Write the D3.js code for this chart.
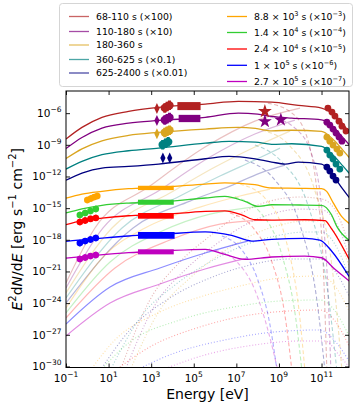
<!DOCTYPE html>
<html>
<head>
<meta charset="utf-8">
<script src="https://cdn.jsdelivr.net/npm/d3@7"></script>
<style>
  body { margin: 0; background: #fff; }
  svg { font-family: "DejaVu Sans", sans-serif; }
</style>
</head>
<body>
<div id="chart"></div>
<script>
// ---- data (log10 E [eV], log10 E^2 dN/dE) ----
var epochLabels = [
  ["68-110 s (×100)"],
  ["110-180 s (×10)"],
  ["180-360 s"],
  ["360-625 s (×0.1)"],
  ["625-2400 s (×0.01)"],
  ["8.8 × 10", "^3", " s (×10", "^−3", ")"],
  ["1.4 × 10", "^4", " s (×10", "^−4", ")"],
  ["2.4 × 10", "^4", " s (×10", "^−5", ")"],
  ["1 × 10", "^5", " s (×10", "^−6", ")"],
  ["2.7 × 10", "^5", " s (×10", "^−7", ")"]
];
var epochColors = ["#b22222", "#800080", "#daa520", "#008080", "#000080",
                   "#ffa500", "#32cd32", "#ff0000", "#0000ff", "#bf00bf"];

var xTicks = [-1, 1, 3, 5, 7, 9, 11];
var yTicks = [-30, -27, -24, -21, -18, -15, -12, -9, -6];

// total model, one per epoch
var totalModel = [
  [[-1,-8.45],[-0.25,-7.35],[0.69,-6.40],[1.94,-5.83],[3.35,-5.45],[5.54,-5.14],[7.09,-4.89],[8.66,-4.95],[9.91,-5.27],[11.0,-5.52],[11.5,-6.0],[12.0,-7.0],[12.3,-7.9]],
  [[-1,-9.35],[-0.25,-8.30],[0.69,-7.41],[1.94,-6.94],[3.35,-6.69],[5.54,-6.40],[7.09,-6.0],[8.0,-6.1],[8.66,-6.31],[9.6,-6.47],[11.0,-6.63],[11.5,-7.2],[12.0,-8.3],[12.3,-9.0]],
  [[-1,-10.3],[-0.25,-9.38],[0.69,-8.62],[1.94,-8.11],[3.35,-7.82],[5.54,-7.51],[7.09,-7.35],[7.9,-7.45],[8.66,-7.67],[9.6,-7.62],[11.0,-7.73],[11.5,-8.4],[12.0,-9.5],[12.3,-10.2]],
  [[-1,-11.3],[-0.25,-10.57],[0.69,-9.94],[1.94,-9.56],[3.35,-9.31],[5.54,-8.84],[6.66,-8.67],[7.9,-8.75],[8.66,-8.95],[9.6,-8.9],[11.0,-9.15],[11.5,-9.9],[12.0,-11.0],[12.3,-11.7]],
  [[-1,-12.35],[-0.25,-11.68],[0.69,-11.20],[1.94,-11.04],[3.35,-10.82],[5.54,-10.32],[6.66,-10.09],[7.8,-10.3],[8.66,-10.63],[9.29,-10.82],[9.91,-10.63],[11.0,-10.82],[11.5,-11.8],[12.0,-13.2],[12.3,-14.0]],
  [[-1,-14.05],[-0.25,-13.67],[0.69,-13.41],[1.94,-13.16],[3.35,-13.03],[5.54,-12.72],[6.46,-12.60],[7.87,-12.78],[8.66,-13.09],[10.0,-13.12],[11.0,-13.16],[11.24,-13.41],[11.55,-14.5],[11.94,-15.78],[12.3,-16.45]],
  [[-1,-15.46],[-0.25,-15.06],[0.69,-14.73],[1.94,-14.52],[3.35,-14.42],[5.54,-14.04],[6.46,-13.88],[7.40,-14.36],[8.03,-14.83],[8.66,-14.68],[10.0,-14.7],[11.0,-14.73],[11.47,-15.63],[11.71,-16.7],[12.3,-18.05]],
  [[-1,-16.57],[-0.25,-16.19],[0.69,-15.94],[1.94,-15.72],[3.35,-15.63],[5.54,-15.30],[6.46,-15.25],[7.25,-15.63],[7.87,-16.10],[8.66,-16.13],[10.22,-16.10],[11.16,-16.19],[11.44,-16.86],[12.3,-19.85]],
  [[-1,-18.14],[0.38,-17.90],[1.94,-17.64],[3.51,-17.48],[5.54,-17.24],[6.78,-17.58],[7.72,-18.12],[8.66,-17.95],[10.22,-17.86],[10.92,-18.02],[11.47,-19.06],[12.3,-21.5]],
  [[-1,-19.73],[0.38,-19.47],[1.94,-19.22],[3.51,-19.06],[5.54,-18.90],[6.46,-19.38],[7.40,-19.85],[8.66,-19.63],[10.22,-19.54],[11.0,-19.70],[11.63,-20.8],[12.3,-21.9]]
];

// faint solid component (rising from low energy)
var riseModel = [
  [[-1,-22.09],[0.36,-16.88],[2.94,-12.91],[5.53,-9.21],[7.87,-6.75],[9.99,-5.52]],
  [[-1,-22.57],[0.74,-16.88],[3.41,-13.29],[5.76,-10.16],[7.87,-7.98],[9.75,-6.66]],
  [[-1,-23.04],[1.16,-16.88],[3.88,-13.57],[6.00,-11.11],[7.87,-9.21],[9.52,-7.70]],
  [[-1,-23.51],[1.63,-16.88],[4.35,-13.85],[6.23,-11.96],[7.87,-10.44],[9.05,-9.31]],
  [[-1,-23.99],[2.15,-16.88],[4.82,-14.33],[6.70,-12.91],[8.11,-11.68],[9.28,-10.92]],
  [[-1,-24.46],[0.83,-19.44],[2.71,-16.88],[5.29,-14.90],[7.17,-13.85],[8.58,-13.19]],
  [[-1,-24.93],[1.07,-20.10],[3.41,-17.26],[5.76,-15.56],[7.40,-14.99],[8.34,-14.80]],
  [[-1,-25.41],[1.30,-20.67],[3.88,-18.02],[6.23,-16.51],[8.20,-16.13]],
  [[-1,-25.98],[1.07,-22.47],[3.41,-20.67],[5.53,-19.25],[7.54,-18.12]],
  [[-1,-27.11],[1.07,-23.99],[3.41,-22.19],[5.53,-20.77],[7.54,-19.72]]
];

// dashed component (cut-off at high energy)
var cutModel = [
  [[8.48,-5.05],[9.61,-5.99],[10.36,-8.55],[10.78,-13.29],[11.07,-19.91],[11.25,-30.4]],
  [[8.58,-6.37],[9.75,-7.41],[10.55,-9.97],[11.02,-15.18],[11.30,-22.76],[11.44,-30.4]],
  [[8.20,-7.60],[9.52,-9.12],[10.65,-13.10],[11.54,-21.34],[11.96,-30.4]],
  [[7.87,-9.02],[9.14,-10.63],[10.36,-14.71],[11.25,-22.28],[11.72,-30.4]],
  [[7.40,-10.44],[8.81,-12.34],[9.99,-16.60],[10.78,-23.70],[11.16,-30.4]],
  [[7.17,-12.72],[8.34,-14.04],[9.33,-18.02],[9.94,-24.65],[10.22,-30.4]],
  [[6.93,-13.95],[8.11,-15.37],[9.14,-19.44],[9.80,-25.60],[10.08,-30.4]],
  [[6.70,-15.46],[7.87,-17.07],[8.67,-20.10],[9.28,-25.12],[9.61,-30.4]],
  [[6.32,-17.64],[7.26,-18.97],[8.01,-21.81],[8.58,-26.07],[8.91,-30.4]],
  [[6.00,-18.97],[7.08,-20.20],[7.87,-22.76],[8.48,-26.54],[8.95,-30.4]]
];

// dotted component
var lowModel = [
  [[1.54,-30.4],[2.94,-23.70],[4.35,-20.10],[5.76,-17.64],[7.17,-15.56],[8.58,-14.33],[9.99,-13.95],[11.02,-14.14],[11.77,-15.65],[12.29,-18.49]],
  [[1.77,-30.4],[3.18,-24.18],[4.59,-20.86],[6.00,-18.49],[7.40,-16.60],[8.81,-15.46],[9.99,-15.09],[11.02,-15.18],[11.77,-16.70],[12.29,-19.54]],
  [[2.00,-30.4],[3.41,-24.65],[4.82,-21.62],[6.23,-19.35],[7.64,-17.64],[9.05,-16.60],[10.22,-16.22],[11.02,-16.22],[11.72,-17.64],[12.29,-20.48]],
  [[1.07,-30.4],[2.47,-25.41],[4.12,-22.28],[5.76,-20.10],[7.40,-18.49],[9.05,-17.55],[10.22,-17.26],[11.02,-17.26],[11.68,-18.59],[12.29,-21.43]],
  [[0.60,-30.4],[2.00,-26.54],[3.88,-23.51],[5.76,-21.62],[7.64,-20.39],[9.52,-19.82],[10.92,-19.82],[11.63,-20.96],[12.29,-23.32]],
  [[0.13,-30.4],[1.30,-27.49],[3.41,-24.84],[5.29,-23.42],[7.17,-22.38],[9.05,-21.62],[10.92,-21.43],[11.63,-22.38],[12.29,-24.74]],
  [[0.60,-30.4],[2.00,-27.68],[4.35,-25.60],[7.17,-24.27],[9.05,-23.80],[10.92,-23.70],[11.63,-24.74],[12.29,-27.11]],
  [[1.30,-30.4],[2.94,-28.15],[5.29,-26.26],[7.64,-25.12],[9.52,-24.74],[10.92,-24.65],[11.63,-25.69],[12.29,-28.06]],
  [[2.24,-30.4],[4.12,-28.72],[6.46,-27.49],[8.81,-26.73],[10.92,-26.54],[11.63,-27.59],[12.29,-29.48]],
  [[3.41,-30.4],[5.53,-28.91],[7.87,-27.96],[9.99,-27.59],[11.16,-27.59],[11.86,-29.01],[12.29,-30.05]]
];

// observations: [epoch, logE, logF]
var diamondPoints = [[0,3.27,-5.57],[1,3.27,-6.70],[2,3.27,-7.94],[4,3.55,-10.26],[4,3.87,-10.26]];
var opticalPoints = [
  [0,3.64,-5.5],[0,3.75,-5.38],[0,3.86,-5.26],
  [1,3.64,-6.64],[1,3.75,-6.52],[1,3.86,-6.42],
  [2,3.64,-7.84],[2,3.75,-7.72],[2,3.86,-7.62],
  [3,3.54,-9.0],[3,3.67,-8.86],[3,3.8,-8.72]
];
var uvPoints = [
  [5,0.0,-14.23],[5,0.17,-14.09],[5,0.33,-13.95],[5,0.47,-13.85],
  [6,-0.35,-15.65],[6,-0.1,-15.46],[6,0.15,-15.27],[6,0.4,-15.08],
  [7,-0.35,-16.31],[7,-0.1,-16.17],[7,0.15,-16.02],[7,0.4,-15.93],
  [8,-0.35,-18.31],[8,-0.1,-18.12],[8,0.15,-17.97],[8,0.4,-17.83],
  [9,-0.35,-19.82],[9,-0.1,-19.68],[9,0.15,-19.54],[9,0.4,-19.44]
];
// X-ray bands: [epoch, logE0, logE1, logFlo, logFhi]
var xrayBands = [
  [0,4.23,5.32,-5.71,-4.95],
  [1,4.29,5.31,-6.85,-6.16],
  [5,2.38,4.06,-13.29,-12.88],
  [6,2.38,4.06,-14.68,-14.20],
  [7,2.38,4.06,-16.0,-15.46],
  [8,2.38,4.10,-17.90,-17.26],
  [9,2.38,4.06,-19.38,-18.90]
];
var latPoints = [[0,8.34,-5.83],[1,8.34,-6.78],[1,9.09,-6.63]];
var tevPoints = [
  [0,11.30,-5.52],[0,11.49,-5.90],[0,11.63,-6.28],[0,11.82,-6.76],[0,11.96,-7.23],[0,12.15,-7.70],
  [1,11.25,-6.85],[1,11.39,-7.13],[1,11.54,-7.51],[1,11.68,-7.89],[1,11.82,-8.27],[1,11.96,-8.65],
  [2,11.25,-8.27],[2,11.39,-8.65],[2,11.54,-9.02],[2,11.72,-9.40],[2,11.86,-9.78],
  [3,11.25,-9.50],[3,11.39,-9.97],[3,11.54,-10.35],[3,11.68,-10.82],[3,11.86,-11.30],
  [4,11.25,-11.11],[4,11.39,-11.49],[4,11.54,-11.96],[4,11.68,-12.34]
];

// ---- layout ----
var margin = {top: 91, right: 8, bottom: 43.5, left: 66};
var width = 357 - margin.left - margin.right;
var height = 411 - margin.top - margin.bottom;

var svg = d3.select("#chart").append("svg")
  .attr("width", 357).attr("height", 411);
var g = svg.append("g")
  .attr("transform", "translate(" + margin.left + "," + margin.top + ")");

var x = d3.scaleLog().domain([1e-1, Math.pow(10, 12.29)]).range([0, width]);
var y = d3.scaleLog().domain([Math.pow(10, -30.1), Math.pow(10, -3.9)]).range([height, 0]);
var px = function(v) { return x(Math.pow(10, v)); };
var py = function(v) { return y(Math.pow(10, v)); };

// text with ^superscripts and _italics
function richText(sel, parts, supSize, rise) {
  var cur = 0;
  parts.forEach(function(p) {
    var t = sel.append("tspan");
    var target = 0;
    if (p[0] === "^") { t.text(p.slice(1)).attr("font-size", supSize); target = -rise; }
    else if (p[0] === "_") { t.text(p.slice(1)).attr("font-style", "italic"); }
    else { t.text(p); }
    if (target !== cur) { t.attr("dy", target - cur); cur = target; }
  });
}

g.append("clipPath").attr("id", "clip")
  .append("rect").attr("width", width).attr("height", height);
var plot = g.append("g").attr("clip-path", "url(#clip)");

var line = d3.line()
  .x(function(d) { return px(d[0]); })
  .y(function(d) { return py(d[1]); })
  .curve(d3.curveMonotoneX);

// background components
plot.selectAll(".low").data(lowModel).enter().append("path")
  .attr("d", line).attr("fill", "none")
  .attr("stroke", function(d, i) { return epochColors[i]; })
  .attr("stroke-width", 1.1).attr("stroke-opacity", 0.35)
  .attr("stroke-dasharray", "1,2");

plot.selectAll(".rise").data(riseModel).enter().append("path")
  .attr("d", line).attr("fill", "none")
  .attr("stroke", function(d, i) { return epochColors[i]; })
  .attr("stroke-width", 1.2)
  .attr("stroke-opacity", function(d, i) { return i >= 8 ? 0.45 : 0.28; });

plot.selectAll(".cut").data(cutModel).enter().append("path")
  .attr("d", line).attr("fill", "none")
  .attr("stroke", function(d, i) { return epochColors[i]; })
  .attr("stroke-width", 1.1).attr("stroke-opacity", 0.32)
  .attr("stroke-dasharray", "4,2.5");

// total model curves
plot.selectAll(".total").data(totalModel).enter().append("path")
  .attr("d", line).attr("fill", "none")
  .attr("stroke", function(d, i) { return epochColors[i]; })
  .attr("stroke-width", 1.3);

// X-ray bands
plot.selectAll(".xray").data(xrayBands).enter().append("rect")
  .attr("x", function(d) { return px(d[1]); })
  .attr("width", function(d) { return px(d[2]) - px(d[1]); })
  .attr("y", function(d) { return py(d[4]); })
  .attr("height", function(d) { return py(d[3]) - py(d[4]); })
  .attr("fill", function(d) { return epochColors[d[0]]; });

// optical / UV points with error bars
function errPoints(data, r, dlog, w) {
  var grp = plot.append("g");
  grp.selectAll("line").data(data).enter().append("line")
    .attr("x1", function(d) { return px(d[1]); })
    .attr("x2", function(d) { return px(d[1]); })
    .attr("y1", function(d) { return py(d[2] - dlog); })
    .attr("y2", function(d) { return py(d[2] + dlog); })
    .attr("stroke", function(d) { return epochColors[d[0]]; })
    .attr("stroke-width", w);
  grp.selectAll("circle").data(data).enter().append("circle")
    .attr("cx", function(d) { return px(d[1]); })
    .attr("cy", function(d) { return py(d[2]); })
    .attr("r", r)
    .attr("fill", function(d) { return epochColors[d[0]]; });
}
errPoints(opticalPoints, 4.2, 0.45, 3);
errPoints(uvPoints, 3.3, 0.3, 2);

// thin diamonds
plot.selectAll(".dia").data(diamondPoints).enter().append("path")
  .attr("d", function(d) {
    var cx = px(d[1]), cy = py(d[2]);
    return "M" + cx + "," + (cy - 5.5) + "L" + (cx + 2.6) + "," + cy +
           "L" + cx + "," + (cy + 5.5) + "L" + (cx - 2.6) + "," + cy + "Z";
  })
  .attr("fill", function(d) { return epochColors[d[0]]; });

// LAT stars
plot.selectAll(".star").data(latPoints).enter().append("path")
  .attr("d", d3.symbol().type(d3.symbolStar).size(60))
  .attr("transform", function(d) { return "translate(" + px(d[1]) + "," + py(d[2]) + ")"; })
  .attr("fill", function(d) { return epochColors[d[0]]; });

// TeV points
plot.selectAll(".tev").data(tevPoints).enter().append("circle")
  .attr("cx", function(d) { return px(d[1]); })
  .attr("cy", function(d) { return py(d[2]); })
  .attr("r", 3.4)
  .attr("fill", function(d) { return epochColors[d[0]]; });

// ---- axes (ticks inward on all sides) ----
var xv = xTicks.map(function(v) { return Math.pow(10, v); });
var yv = yTicks.map(function(v) { return Math.pow(10, v); });
[
  [d3.axisBottom(x).tickValues(xv), "translate(0," + height + ")"],
  [d3.axisTop(x).tickValues(xv), "translate(0,0)"],
  [d3.axisLeft(y).tickValues(yv), "translate(0,0)"],
  [d3.axisRight(y).tickValues(yv), "translate(" + width + ",0)"]
].forEach(function(a) {
  var ax = g.append("g").attr("transform", a[1])
    .call(a[0].tickSize(-4).tickSizeOuter(0).tickFormat(""));
  ax.select(".domain").remove();
  ax.selectAll("line").attr("stroke", "#000").attr("stroke-width", 0.9);
});

g.append("rect").attr("width", width).attr("height", height)
  .attr("fill", "none").attr("stroke", "#000").attr("stroke-width", 1);

// tick labels
xTicks.forEach(function(v) {
  var t = g.append("text").attr("x", px(v)).attr("y", height + 14.5)
    .attr("text-anchor", "middle").attr("font-size", "10.5px").attr("fill", "#000");
  richText(t, ["10", "^" + String(v).replace("-", "−")], "7.5px", 4.8);
});
yTicks.forEach(function(v) {
  var t = g.append("text").attr("x", -4.5).attr("y", py(v) + 3.8)
    .attr("text-anchor", "end").attr("font-size", "10.5px").attr("fill", "#000");
  richText(t, ["10", "^" + String(v).replace("-", "−")], "7.5px", 4.8);
});

// axis titles
g.append("text").attr("x", width / 2).attr("y", height + 31)
  .attr("text-anchor", "middle").attr("font-size", "14px").attr("fill", "#000")
  .text("Energy [eV]");
var yl = g.append("text")
  .attr("transform", "translate(-44.5," + (height / 2) + ") rotate(-90)")
  .attr("text-anchor", "middle").attr("font-size", "14px").attr("fill", "#000");
richText(yl, ["_E", "^2", "d", "_N", "/d", "_E", " [erg s", "^−1", " cm", "^−2", "]"], "10px", 5.5);

// ---- legend ----
svg.append("rect").attr("x", 59.5).attr("y", 3.5).attr("width", 293).attr("height", 83)
  .attr("rx", 3).attr("fill", "#fff").attr("fill-opacity", 0.8)
  .attr("stroke", "#d5d5d5").attr("stroke-width", 1);

var legLeftY = [16.5, 31.5, 45, 59.5, 73];
var legRightY = [16.5, 32.5, 49, 65.3, 81.5];
epochLabels.forEach(function(lab, i) {
  var left = i < 5;
  var ly = left ? legLeftY[i] : legRightY[i - 5];
  var lx = left ? 69 : 227;
  svg.append("line").attr("x1", lx).attr("x2", lx + 20).attr("y1", ly).attr("y2", ly)
    .attr("stroke", epochColors[i]).attr("stroke-width", 1.3)
    .attr("stroke-opacity", left ? 0.7 : 1);
  var t = svg.append("text").attr("x", lx + 27).attr("y", ly + 3.4)
    .attr("font-size", "9.3px").attr("fill", "#000");
  richText(t, lab, "6.6px", 3.8);
});
</script>
</body>
</html>
